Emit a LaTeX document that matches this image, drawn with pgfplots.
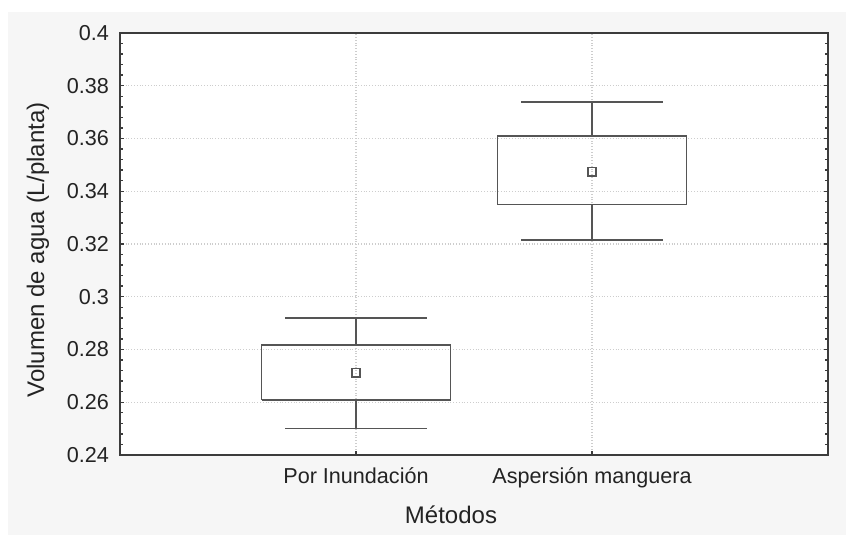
\documentclass[border=0pt]{standalone}
\usepackage{pgfplots}
\pgfplotsset{compat=1.18}
\usepackage{fontspec}
\setmainfont{Liberation Sans}
\definecolor{bg}{RGB}{246,246,246}
\definecolor{framec}{RGB}{60,60,60}
\definecolor{boxc}{RGB}{85,85,85}
\definecolor{gridc}{RGB}{205,205,205}
\definecolor{txt}{RGB}{35,35,35}
\begin{document}
\begin{tikzpicture}
\fill[white] (0,0) rectangle (423pt,267.5pt);
\fill[bg] (4pt,0) rectangle (423pt,261.5pt);
\begin{axis}[
  at={(60pt,40pt)}, anchor=south west,
  scale only axis, width=354pt, height=211pt,
  xmin=0, xmax=3, ymin=0.24, ymax=0.4,
  axis background/.style={fill=white},
  xtick={1,2},
  xticklabels={Por Inundación, Aspersión manguera},
  ytick={0.24,0.26,0.28,0.30,0.32,0.34,0.36,0.38,0.40},
  yticklabels={0.24,0.26,0.28,0.3,0.32,0.34,0.36,0.38,0.4},
  minor y tick num=4,
  xtick pos=bottom,
  tick align=inside,
  major tick length=2pt, minor tick length=1.5pt,
  tick style={framec, line width=0.7pt},
  axis line style={framec, line width=1.1pt},
  grid=major,
  major grid style={gridc, densely dotted, line width=0.6pt},
  ticklabel style={font=\fontsize{10.8}{12}\selectfont, text=txt},
  yticklabel style={xshift=-2pt},
  xticklabel style={yshift=-3pt},
  /pgf/number format/assume math mode=true,
]
% Box 1: Por Inundación
\addplot[boxc, line width=0.8pt, mark=none] coordinates {(0.6,0.2609) (1.4,0.2609) (1.4,0.2817) (0.6,0.2817) (0.6,0.2609)};
\addplot[boxc, line width=0.8pt, mark=none] coordinates {(1,0.2817) (1,0.2919)};
\addplot[boxc, line width=0.8pt, mark=none] coordinates {(1,0.2609) (1,0.2500)};
\addplot[boxc, line width=0.8pt, mark=none] coordinates {(0.7,0.2919) (1.3,0.2919)};
\addplot[boxc, line width=0.8pt, mark=none] coordinates {(0.7,0.2500) (1.3,0.2500)};
\addplot[only marks, mark=square, mark size=2.1pt, mark options={boxc, line width=0.8pt, fill=white}] coordinates {(1,0.2712)};
% Box 2: Aspersión manguera
\addplot[boxc, line width=0.8pt, mark=none] coordinates {(1.6,0.3349) (2.4,0.3349) (2.4,0.3609) (1.6,0.3609) (1.6,0.3349)};
\addplot[boxc, line width=0.8pt, mark=none] coordinates {(2,0.3609) (2,0.3738)};
\addplot[boxc, line width=0.8pt, mark=none] coordinates {(2,0.3349) (2,0.3215)};
\addplot[boxc, line width=0.8pt, mark=none] coordinates {(1.7,0.3738) (2.3,0.3738)};
\addplot[boxc, line width=0.8pt, mark=none] coordinates {(1.7,0.3215) (2.3,0.3215)};
\addplot[only marks, mark=square, mark size=2.1pt, mark options={boxc, line width=0.8pt, fill=white}] coordinates {(2,0.3474)};
\end{axis}
\node[text=txt, font=\fontsize{12}{14}\selectfont] at (225.5pt,10pt) {Métodos};
\node[text=txt, font=\fontsize{12}{14}\selectfont, rotate=90] at (19pt,142.5pt) {Volumen de agua (L/planta)};
\end{tikzpicture}
\end{document}
